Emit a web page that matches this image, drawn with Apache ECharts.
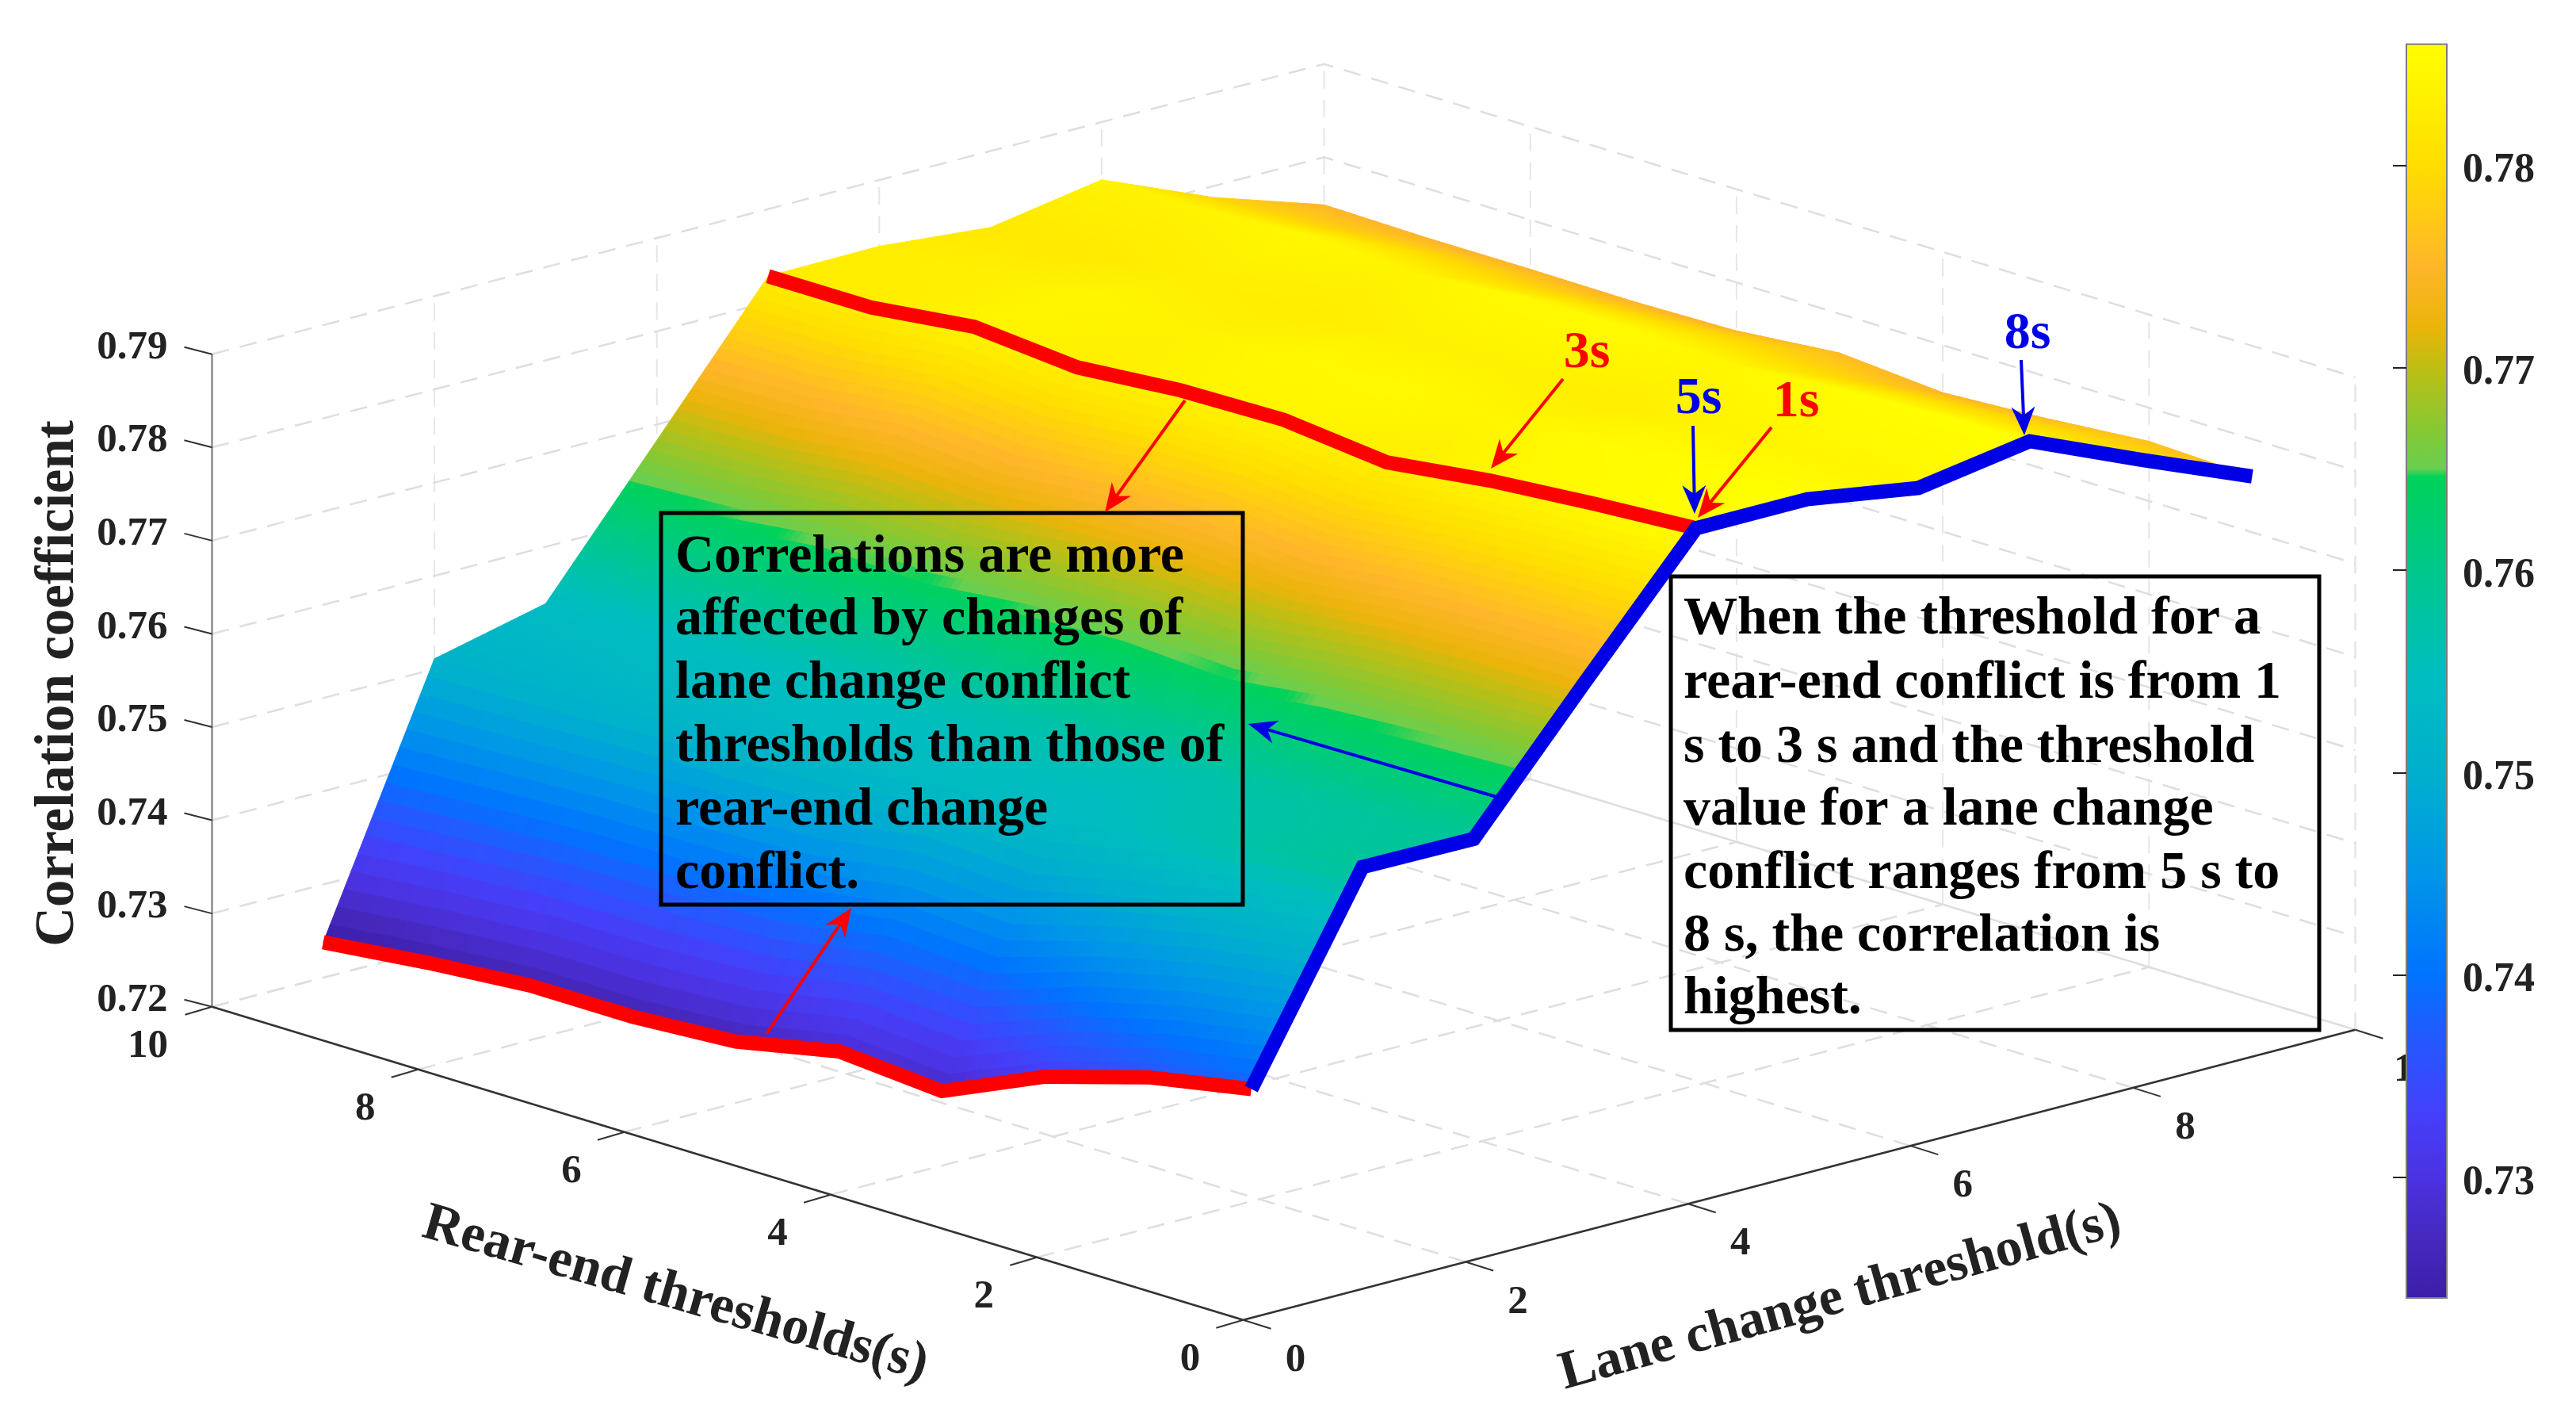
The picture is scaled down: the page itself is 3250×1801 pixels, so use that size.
<!DOCTYPE html>
<html><head><meta charset="utf-8">
<style>html,body{margin:0;padding:0;background:#fff}#c{width:3250px;height:1801px}</style>
<script src="https://cdn.jsdelivr.net/npm/echarts@6/dist/echarts.min.js"></script>
</head><body><div id="c"></div>
<script>
// ---- data: correlation by rear-end threshold 1..10, one list per lane change threshold
var rearThresholds = [1,2,3,4,5,6,7,8,9,10];
var laneThresholds = [1,2,3,4,5,6,7,8,9,10];
var lane1  = [.7383,.7362,.7329,.7280,.7289,.7266,.7259,.7259,.7250,.7238];
var lane2  = [.7590,.7575,.7555,.7535,.7540,.7525,.7520,.7518,.7514,.7511];
var lane3  = [.7589,.7583,.7576,.7562,.7568,.7561,.7553,.7556,.7545,.7539];
var lane4  = [.7726,.7724,.7718,.7704,.7712,.7708,.7695,.7702,.7688,.7683];
var lane5  = [.7860,.7853,.7844,.7830,.7842,.7840,.7831,.7841,.7828,.7828];
var lane6  = [.7860,.7857,.7852,.7843,.7848,.7846,.7838,.7843,.7832,.7829];
var lane7  = [.7841,.7842,.7838,.7830,.7836,.7835,.7826,.7832,.7820,.7818];
var lane8  = [.7860,.7858,.7853,.7845,.7851,.7849,.7840,.7846,.7840,.7838];
var lane9  = [.7809,.7807,.7804,.7797,.7802,.7799,.7794,.7797,.7791,.7788];
var lane10 = [.7760,.7764,.7755,.7749,.7758,.7748,.7746,.7747,.7747,.7749];
var surface = [lane1,lane2,lane3,lane4,lane5,lane6,lane7,lane8,lane9,lane10];

var zTicks = [0.72,0.73,0.74,0.75,0.76,0.77,0.78,0.79];
var floorTicks = [0,2,4,6,8,10];
var colorbarTicks = [0.73,0.74,0.75,0.76,0.77,0.78];
var colorbarMin = 0.72405, colorbarMax = 0.78598;

var colorValues = [.7240,.7270,.7300,.7330,.7370,.7400,.7450,.7500,.7550,.7600,.7646,.7650,.7670,.7700,.7720,.7750,.7800,.7860];
var colorStops = [[60,30,170],[70,40,190],[75,50,225],[70,62,248],[35,90,255],[0,115,255],[0,150,232],[0,175,205],[0,190,190],[0,200,140],[0,210,90],[105,207,80],[135,200,50],[190,190,20],[235,180,10],[255,182,42],[255,222,0],[255,255,0]];

var zTitle = 'Correlation coefficient', rearTitle = 'Rear-end thresholds(s)', laneTitle = 'Lane change threshold(s)';
var leftNote = ['Correlations are more','affected by changes of','lane change conflict','thresholds than those of','rear-end change','conflict.'];
var rightNote = ['When the threshold for a','rear-end conflict is from 1','s to 3 s and the threshold','value for a lane change','conflict ranges from 5 s to','8 s, the correlation is','highest.'];

// ---- layout of the annotation layer (canvas units)
var FONT = '"Liberation Serif"';
var RED = '#ff0000', BLUE = '#0000e6';
var noteBoxes = [[834,647,1568,1141],[2108,727,2926,1299]];
var noteLeftY = [703,782,862,942,1022,1102], noteRightY = [781,862,943,1022,1102,1181,1260];
var stepLabels = [['3s',2002,446,RED],['1s',2266,508,RED],['5s',2143,504,BLUE],['8s',2558,422,BLUE]];
var arrows = [
 [1495,505,1394,646,RED],[1972,478,1881,591,RED],[2235,539,2142,653,RED],
 [2136,537,2138,648,BLUE],[2550,454,2554,549,BLUE],[1888,1005,1575,913,BLUE],[967,1304,1074,1145,RED]
];

// orthographic view of the (lane, rear, correlation) box
function project(l, r, z){
  return [1568.5 + 140.3*l - 130.1*r, 1664.7 - 36.6*l - 39.5*r - (z-0.72)*11757];
}
function colorOf(v){
  var n = colorValues.length;
  if (v <= colorValues[0]) return 'rgb('+colorStops[0]+')';
  for (var k=1;k<n;k++){
    if (v <= colorValues[k]){
      var t=(v-colorValues[k-1])/(colorValues[k]-colorValues[k-1]), a=colorStops[k-1], b=colorStops[k];
      return 'rgb('+Math.round(a[0]+(b[0]-a[0])*t)+','+Math.round(a[1]+(b[1]-a[1])*t)+','+Math.round(a[2]+(b[2]-a[2])*t)+')';
    }
  }
  return 'rgb('+colorStops[n-1]+')';
}

var chart = echarts.init(document.getElementById('c'), null, {renderer:'canvas'});
var SUB = 16;

function renderSurfaceCell(params, api){
  var i=api.value(0), j=api.value(1), kids=[];
  var z00=surface[i][j], z10=surface[i+1][j], z01=surface[i][j+1], z11=surface[i+1][j+1];
  var L0=laneThresholds[i], L1=laneThresholds[i+1], R0=rearThresholds[j], R1=rearThresholds[j+1];
  function zAt(u,v){return z00*(1-u)*(1-v)+z10*u*(1-v)+z01*(1-u)*v+z11*u*v;}
  function pt(u,v){return api.coord(project(L0+(L1-L0)*u,R0+(R1-R0)*v,zAt(u,v)));}
  for (var b=SUB-1;b>=0;b--) for (var a=SUB-1;a>=0;a--){
    var u0=a/SUB,u1=(a+1)/SUB,v0=b/SUB,v1=(b+1)/SUB;
    var c=colorOf(zAt((u0+u1)/2,(v0+v1)/2));
    kids.push({type:'polygon',silent:true,shape:{points:[pt(u0,v0),pt(u1,v0),pt(u1,v1),pt(u0,v1)]},
      style:{fill:c,stroke:c,lineWidth:1}});
  }
  return {type:'group',children:kids};
}

function poly3d(api, pts, stroke, w, dash){
  return {type:'polyline',silent:true,shape:{points:pts.map(function(p){return api.coord(project(p[0],p[1],p[2]));})},
    style:{fill:null,stroke:stroke,lineWidth:w,lineDash:dash||null,lineJoin:'miter',lineCap:'butt'}};
}
function txt(api,s,x,y,font,fill,align,rot){
  var p=api.coord([x,y]);
  return {type:'text',silent:true,x:p[0],y:p[1],rotation:rot||0,
    style:{x:0,y:0,text:s,font:font,fill:fill,align:align||'center',verticalAlign:'middle'}};
}
function renderBox(params, api){
  var kids=[], zLo=zTicks[0], zHi=zTicks[zTicks.length-1], D=[22,14], G='#dedede', GV='#e6e6e6';
  floorTicks.forEach(function(t){
    kids.push(poly3d(api,[[t,0,zLo],[t,10,zLo]],G,2.5,D));
    kids.push(poly3d(api,[[0,t,zLo],[10,t,zLo]],G,2.5,D));
    if(t>0) kids.push(poly3d(api,[[t,10,zLo],[t,10,zHi]],GV,2,D));
    if(t>0 && t<10) kids.push(poly3d(api,[[10,t,zLo],[10,t,zHi]],GV,2,D));
  });
  kids.push(poly3d(api,[[10,0,zLo],[10,0,zHi]],GV,2.5,D));
  zTicks.forEach(function(z){
    kids.push(poly3d(api,[[0,10,z],[10,10,z],[10,0,z]],G,2.5,D));
  });
  return {type:'group',children:kids};
}
function seg(api,a,dx,dy,c,w){
  var p=api.coord(a), q=api.coord([a[0]+dx,a[1]+dy]);
  return {type:'line',silent:true,shape:{x1:p[0],y1:p[1],x2:q[0],y2:q[1]},style:{stroke:c,lineWidth:w}};
}
function renderAxes(params, api){
  var kids=[], zLo=zTicks[0], zHi=zTicks[zTicks.length-1], ink='#222', bold='bold 51px '+FONT;
  kids.push(poly3d(api,[[0,10,zLo],[0,10,zHi]],'#8c8c8c',2.5));
  kids.push(poly3d(api,[[0,0,zLo],[0,10,zLo]],'#333',2.5));
  kids.push(poly3d(api,[[0,0,zLo],[10,0,zLo]],'#333',2.5));
  zTicks.forEach(function(z){
    var p=project(0,10,z);
    kids.push(seg(api,p,-35,-9,'#333',2));
    kids.push(txt(api,z.toFixed(2),p[0]-56,p[1]-8,bold,ink,'right'));
  });
  floorTicks.forEach(function(t){
    var p=project(0,t,zLo), q=project(t,0,zLo);
    kids.push(seg(api,p,-34,10,'#333',2));
    kids.push(seg(api,q,35,11,'#333',2));
    kids.push(txt(api,String(t),p[0]-(t===10?81:67),p[1]+50,bold,ink));
    kids.push(txt(api,String(t),q[0]+(t===10?74:66),q[1]+51,bold,ink));
  });
  kids.push(txt(api,zTitle,74,862,'bold 69px '+FONT,ink,'center',Math.PI/2));
  kids.push(txt(api,rearTitle,852,1633,'bold 68px '+FONT,ink,'center',-16*Math.PI/180));
  kids.push(txt(api,laneTitle,2322,1637,'bold 68px '+FONT,ink,'center',15.5*Math.PI/180));
  return {type:'group',children:kids};
}
function renderEdges(params, api){
  var k5=surface[4], k1=surface[0];
  var red1=rearThresholds.map(function(r,i){return [1,r,k1[i]];});
  var red5=rearThresholds.map(function(r,i){return [5,r,k5[i]];});
  var blue=laneThresholds.map(function(l,i){return [l,1,surface[i][0]];});
  return {type:'group',children:[poly3d(api,red1,RED,18),poly3d(api,red5,RED,18),poly3d(api,blue,BLUE,18)]};
}
function renderNotes(params, api){
  var kids=[], f='bold 68px '+FONT;
  noteBoxes.forEach(function(b){
    var p=api.coord([b[0],b[1]]), q=api.coord([b[2],b[3]]);
    kids.push({type:'rect',silent:true,shape:{x:p[0],y:p[1],width:q[0]-p[0],height:q[1]-p[1]},style:{fill:null,stroke:'#000',lineWidth:5}});
  });
  leftNote.forEach(function(s,i){kids.push(txt(api,s,852,noteLeftY[i],f,'#000','left'));});
  rightNote.forEach(function(s,i){kids.push(txt(api,s,2124,noteRightY[i],f,'#000','left'));});
  stepLabels.forEach(function(l){kids.push(txt(api,l[0],l[1],l[2],'bold 66px '+FONT,l[3]));});
  arrows.forEach(function(a){
    var p=api.coord([a[0],a[1]]), q=api.coord([a[2],a[3]]);
    var dx=q[0]-p[0], dy=q[1]-p[1], n=Math.sqrt(dx*dx+dy*dy); dx/=n; dy/=n;
    var nx=-dy, ny=dx, H=36, W=15, N=25;
    kids.push({type:'line',silent:true,shape:{x1:p[0],y1:p[1],x2:q[0]-dx*N,y2:q[1]-dy*N},style:{stroke:a[4],lineWidth:4}});
    kids.push({type:'polygon',silent:true,shape:{points:[[q[0],q[1]],[q[0]-dx*H+nx*W,q[1]-dy*H+ny*W],[q[0]-dx*N,q[1]-dy*N],[q[0]-dx*H-nx*W,q[1]-dy*H-ny*W]]},style:{fill:a[4]}});
  });
  return {type:'group',children:kids};
}
function renderColorbar(params, api){
  var top=api.coord([0,colorbarMax]), bot=api.coord([1,colorbarMin]);
  var stops=[];
  colorValues.forEach(function(v,i){
    var o=(colorbarMax-v)/(colorbarMax-colorbarMin);
    stops.push({offset:Math.min(1,Math.max(0,o)),color:'rgb('+colorStops[i]+')'});
  });
  stops.reverse();
  return {type:'rect',silent:true,shape:{x:top[0],y:top[1],width:bot[0]-top[0],height:bot[1]-top[1]},
    style:{fill:new echarts.graphic.LinearGradient(0,0,0,1,stops),stroke:'#7d7d7d',lineWidth:2}};
}

var cells=[];
for (var j=rearThresholds.length-2;j>=0;j--) for (var i=laneThresholds.length-2;i>=0;i--) cells.push([i,j]);

function layer(name,fn,z,data){
  return {type:'custom',name:name,coordinateSystem:'cartesian2d',xAxisIndex:0,yAxisIndex:0,z:z,animation:false,silent:true,
    renderItem:fn,data:data||[[0,0]],encode:{x:0,y:1},clip:false,tooltip:{show:false}};
}
chart.setOption({
  animation:false,
  backgroundColor:'#fff',
  grid:[{left:0,top:0,width:3250,height:1801,show:false},{left:3036,top:55.7,width:51,height:1581.3,show:false}],
  xAxis:[{type:'value',gridIndex:0,min:0,max:3250,show:false},{type:'value',gridIndex:1,min:0,max:1,show:false}],
  yAxis:[{type:'value',gridIndex:0,min:0,max:1801,inverse:true,show:false},
    {type:'value',gridIndex:1,position:'right',min:colorbarMin,max:colorbarMax,z:30,
     axisLine:{show:false},splitLine:{show:false},
     axisTick:{show:true,inside:true,length:17,customValues:colorbarTicks,lineStyle:{color:'#222',width:2}},
     axisLabel:{show:true,customValues:colorbarTicks,margin:20,color:'#222',fontFamily:'Liberation Serif',fontWeight:'bold',fontSize:52,verticalAlign:'top',padding:[-19,0,0,0],
       formatter:function(v){return v.toFixed(2);}}}],
  series:[
    layer('box',renderBox,1),
    layer('axes',renderAxes,2),
    layer('surface',renderSurfaceCell,3,cells),
    layer('edges',renderEdges,4),
    layer('notes',renderNotes,5),
    {type:'custom',name:'colorbar',coordinateSystem:'cartesian2d',xAxisIndex:1,yAxisIndex:1,z:20,silent:true,animation:false,
     renderItem:renderColorbar,data:[[0,colorbarMin]],encode:{x:0,y:1},clip:false}
  ]
});
</script></body></html>
